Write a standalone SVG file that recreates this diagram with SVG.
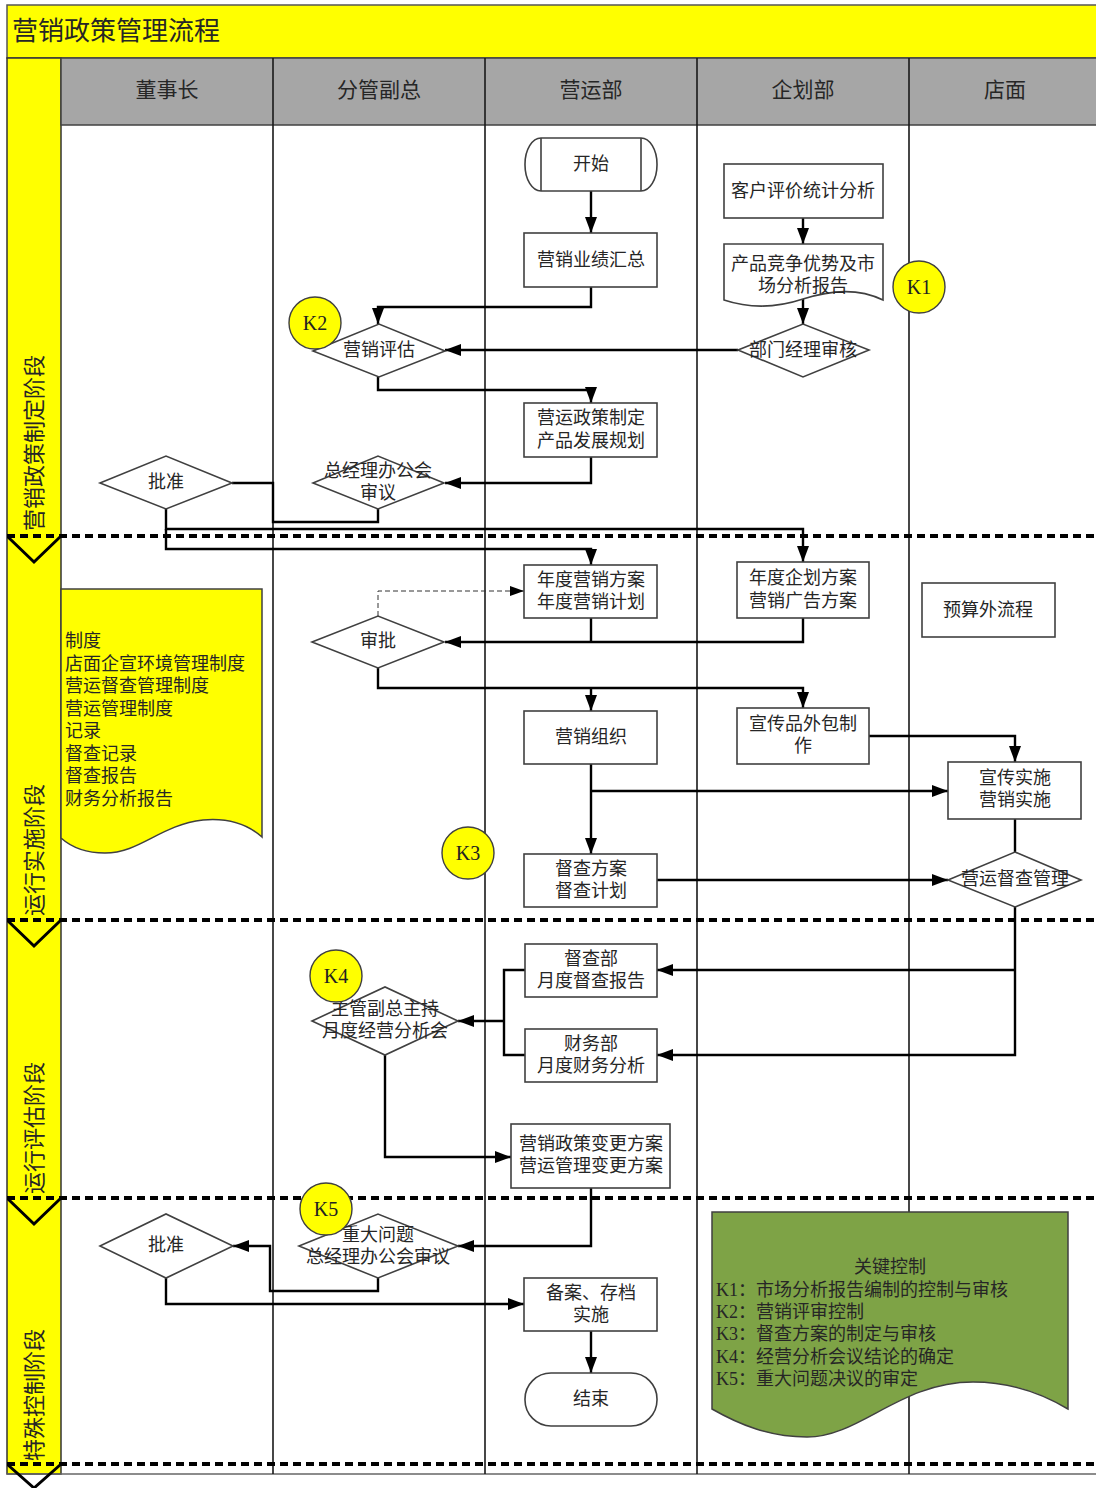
<svg xmlns="http://www.w3.org/2000/svg" width="1096" height="1488" viewBox="0 0 1096 1488">
<style>
text{font-family:"Liberation Serif","Noto Sans CJK SC",serif;fill:#262626;}
.t{font-size:18px;text-anchor:middle;dominant-baseline:central;}
.h{font-size:21px;text-anchor:middle;dominant-baseline:central;}
.k{font-size:20px;text-anchor:middle;dominant-baseline:central;fill:#222;}
.ph{font-size:22px;text-anchor:middle;dominant-baseline:central;}
.l{font-size:18px;}
.box{fill:#fff;stroke:#404040;stroke-width:1.6;}
.kc{fill:#ffff00;stroke:#404040;stroke-width:1.4;}
.lane{stroke:#1a1a1a;stroke-width:1.6;fill:none;}
.sep{stroke:#000;stroke-width:4;stroke-dasharray:8 5;fill:none;}
.chev{stroke:#000;stroke-width:3;fill:none;}
.c{stroke:#000;stroke-width:2.4;fill:none;}
.ca{stroke:#000;stroke-width:2.4;fill:none;marker-end:url(#ah);}
.cd{stroke:#333;stroke-width:1;stroke-dasharray:5 3;fill:none;marker-end:url(#ahs);}
</style>
<defs>
<marker id="ah" markerWidth="16" markerHeight="12" refX="16" refY="6" orient="auto" markerUnits="userSpaceOnUse"><path d="M0,0 L16,6 L0,12 z" fill="#000"/></marker>
<marker id="ahs" markerWidth="14" markerHeight="10" refX="14" refY="5" orient="auto" markerUnits="userSpaceOnUse"><path d="M0,0 L14,5 L0,10 z" fill="#000"/></marker>
</defs>

<g id="frame">
<rect x="0" y="0" width="1096" height="1488" fill="#fff"/>
<rect x="7" y="5" width="1095" height="53" fill="#ffff00" stroke="#555" stroke-width="1.5"/>
<text x="12" y="31" style="font-size:26px;dominant-baseline:central;">营销政策管理流程</text>
<rect x="7" y="58" width="54" height="1416" fill="#ffff00" stroke="#333" stroke-width="1.5"/>
<rect x="61" y="58" width="1040" height="67" fill="#a6a6a6" stroke="#404040" stroke-width="1.5"/>
<line x1="7" y1="1474" x2="1096" y2="1474" stroke="#666" stroke-width="1.5"/>
<text class="h" x="167" y="90">董事长</text>
<text class="h" x="379" y="90">分管副总</text>
<text class="h" x="591" y="90">营运部</text>
<text class="h" x="803" y="90">企划部</text>
<text class="h" x="1005" y="90">店面</text>
<path class="lane" d="M273,58 V1474 M485,58 V1474 M697,58 V1474 M909,58 V1474"/>
<path class="sep" d="M7,536 H1096 M7,920 H1096 M7,1198 H1096 M7,1464 H1096"/>
<path class="chev" d="M8,537 L34,562 L60,537 M8,921 L34,946 L60,921 M8,1199 L34,1224 L60,1199 M8,1465 L34,1488 L60,1465"/>
<text class="ph" transform="translate(34,443) rotate(-90)">营销政策制定阶段</text>
<text class="ph" transform="translate(34,850) rotate(-90)">运行实施阶段</text>
<text class="ph" transform="translate(34,1128) rotate(-90)">运行评估阶段</text>
<text class="ph" transform="translate(34,1395) rotate(-90)">特殊控制阶段</text>
</g>

<g id="connectors">
<path class="ca" d="M591,191 V233"/>
<path class="ca" d="M591,287 V307 H378 V324"/>
<path class="ca" d="M803,218 V244"/>
<path class="ca" d="M803,296 V324"/>
<path class="ca" d="M738,350 H445"/>
<path class="ca" d="M378,377 V390 H591 V403"/>
<path class="ca" d="M591,457 V483 H445"/>
<path class="c" d="M378,509 V522 H273 V483 H232"/>
<path class="ca" d="M166,509 V529 H803 V562"/>
<path class="ca" d="M166,529 V549 H591 V565"/>
<path class="c" d="M591,618 V642"/>
<path class="ca" d="M803,618 V642 H445"/>
<path class="cd" d="M378,616 V591 H524"/>
<path class="ca" d="M378,668 V688 H803 V708"/>
<path class="ca" d="M591,688 V711"/>
<path class="ca" d="M869,736 H1015 V762"/>
<path class="ca" d="M591,764 V854"/>
<path class="ca" d="M591,791 H948"/>
<path class="c" d="M1015,819 V852"/>
<path class="ca" d="M657,880 H948"/>
<path class="ca" d="M1015,907 V1055 H657"/>
<path class="ca" d="M1015,970 H657"/>
<path class="c" d="M525,970 H504 V1055 H525"/>
<path class="ca" d="M504,1021 H458"/>
<path class="ca" d="M385,1055 V1157 H511"/>
<path class="ca" d="M591,1188 V1246 H458"/>
<path class="ca" d="M378,1278 V1291 H270 V1246 H233"/>
<path class="ca" d="M166,1278 V1304 H524"/>
<path class="ca" d="M591,1331 V1373"/>
</g>

<g id="n-start"><rect class="box" x="525" y="138" width="132" height="53" rx="16" ry="26"/><path d="M541,138 V191 M641,138 V191" stroke="#404040" stroke-width="1.6"/><text class="t" x="591" y="164">开始</text></g>
<g id="n-yjhz"><rect class="box" x="524" y="233" width="133" height="54"/><text class="t" x="591" y="260">营销业绩汇总</text></g>
<g id="n-khpj"><rect class="box" x="724" y="164" width="159" height="54"/><text class="t" x="803" y="191">客户评价统计分析</text></g>
<g id="n-cpjz"><path class="box" d="M724,244 H883 V300 C858,288 832,290 803,299 C776,308 748,308 724,300 Z"/><text class="t" x="803" y="264">产品竞争优势及市</text><text class="t" x="803" y="286">场分析报告</text></g>
<g id="n-bmjl"><polygon class="box" points="738,350 803,324 869,350 803,377"/><text class="t" x="803" y="350">部门经理审核</text></g>
<g id="n-k1"><circle class="kc" cx="919" cy="287" r="26"/><text class="k" x="919" y="287">K1</text></g>
<g id="n-yxpg"><polygon class="box" points="313,351 379,324 445,351 379,377"/><text class="t" x="379" y="350">营销评估</text></g>
<g id="n-k2"><circle class="kc" cx="315" cy="323" r="26"/><text class="k" x="315" y="323">K2</text></g>
<g id="n-yyzc"><rect class="box" x="524" y="403" width="133" height="54"/><text class="t" x="591" y="418">营运政策制定</text><text class="t" x="591" y="441">产品发展规划</text></g>
<g id="n-zjl1"><polygon class="box" points="313,483 378,456 444,483 378,509"/><text class="t" x="378" y="471">总经理办公会</text><text class="t" x="378" y="493">审议</text></g>
<g id="n-pz1"><polygon class="box" points="100,483 166,456 232,483 166,509"/><text class="t" x="166" y="482">批准</text></g>

<g id="n-zd"><path d="M61,589 H262 V837 C245,822 225,818 203,820 C160,825 140,853 105,853 C85,853 70,846 61,838 Z" fill="#ffff00" stroke="#404040" stroke-width="1.5"/>
<text class="l" x="65" y="647">制度</text><text class="l" x="65" y="670">店面企宣环境管理制度</text><text class="l" x="65" y="692">营运督查管理制度</text><text class="l" x="65" y="715">营运管理制度</text><text class="l" x="65" y="737">记录</text><text class="l" x="65" y="760">督查记录</text><text class="l" x="65" y="782">督查报告</text><text class="l" x="65" y="805">财务分析报告</text></g>
<g id="n-ndyx"><rect class="box" x="524" y="565" width="133" height="53"/><text class="t" x="591" y="580">年度营销方案</text><text class="t" x="591" y="602">年度营销计划</text></g>
<g id="n-ndqh"><rect class="box" x="737" y="562" width="132" height="56"/><text class="t" x="803" y="578">年度企划方案</text><text class="t" x="803" y="601">营销广告方案</text></g>
<g id="n-ysw"><rect class="box" x="922" y="583" width="133" height="54"/><text class="t" x="988" y="610">预算外流程</text></g>
<g id="n-sp"><polygon class="box" points="312,642 378,616 444,642 378,668"/><text class="t" x="378" y="641">审批</text></g>
<g id="n-yxzz"><rect class="box" x="524" y="711" width="133" height="53"/><text class="t" x="591" y="737">营销组织</text></g>
<g id="n-xcp"><rect class="box" x="737" y="708" width="132" height="56"/><text class="t" x="803" y="724">宣传品外包制</text><text class="t" x="803" y="746">作</text></g>
<g id="n-xcss"><rect class="box" x="948" y="762" width="133" height="57"/><text class="t" x="1015" y="778">宣传实施</text><text class="t" x="1015" y="800">营销实施</text></g>
<g id="n-dcfa"><rect class="box" x="524" y="854" width="133" height="53"/><text class="t" x="591" y="869">督查方案</text><text class="t" x="591" y="891">督查计划</text></g>
<g id="n-yydc"><polygon class="box" points="948,880 1015,852 1081,880 1015,907"/><text class="t" x="1015" y="879">营运督查管理</text></g>
<g id="n-k3"><circle class="kc" cx="468" cy="853" r="26"/><text class="k" x="468" y="853">K3</text></g>

<g id="n-dcb"><rect class="box" x="525" y="944" width="132" height="53"/><text class="t" x="591" y="959">督查部</text><text class="t" x="591" y="981">月度督查报告</text></g>
<g id="n-cwb"><rect class="box" x="525" y="1029" width="132" height="53"/><text class="t" x="591" y="1044">财务部</text><text class="t" x="591" y="1066">月度财务分析</text></g>
<g id="n-jyfx"><polygon class="box" points="312,1021 385,987 458,1021 385,1055"/><text class="t" x="385" y="1009">主管副总主持</text><text class="t" x="385" y="1031">月度经营分析会</text></g>
<g id="n-k4"><circle class="kc" cx="336" cy="976" r="26"/><text class="k" x="336" y="976">K4</text></g>
<g id="n-bgfa"><rect class="box" x="511" y="1124" width="159" height="64"/><text class="t" x="591" y="1144">营销政策变更方案</text><text class="t" x="591" y="1166">营运管理变更方案</text></g>

<g id="n-zdwt"><polygon class="box" points="299,1246 378,1214 458,1246 378,1278"/><text class="t" x="378" y="1235">重大问题</text><text class="t" x="378" y="1257">总经理办公会审议</text></g>
<g id="n-k5"><circle class="kc" cx="326" cy="1209" r="26"/><text class="k" x="326" y="1209">K5</text></g>
<g id="n-pz2"><polygon class="box" points="100,1246 166,1214 233,1246 166,1278"/><text class="t" x="166" y="1245">批准</text></g>
<g id="n-ba"><rect class="box" x="524" y="1278" width="133" height="53"/><text class="t" x="591" y="1293">备案、存档</text><text class="t" x="591" y="1315">实施</text></g>
<g id="n-end"><rect class="box" x="525" y="1373" width="132" height="53" rx="26" ry="26"/><text class="t" x="591" y="1399">结束</text></g>
<g id="n-gjkz"><path d="M712,1212 H1068 V1409 C1040,1392 1010,1382 973,1382 C900,1382 860,1437 807,1437 C770,1437 740,1425 712,1409 Z" fill="#7ea346" stroke="#404040" stroke-width="1.5"/>
<text class="t" x="890" y="1267">关键控制</text>
<text class="l" x="716" y="1296">K1：市场分析报告编制的控制与审核</text>
<text class="l" x="716" y="1318">K2：营销评审控制</text>
<text class="l" x="716" y="1340">K3：督查方案的制定与审核</text>
<text class="l" x="716" y="1363">K4：经营分析会议结论的确定</text>
<text class="l" x="716" y="1385">K5：重大问题决议的审定</text></g>
</svg>
